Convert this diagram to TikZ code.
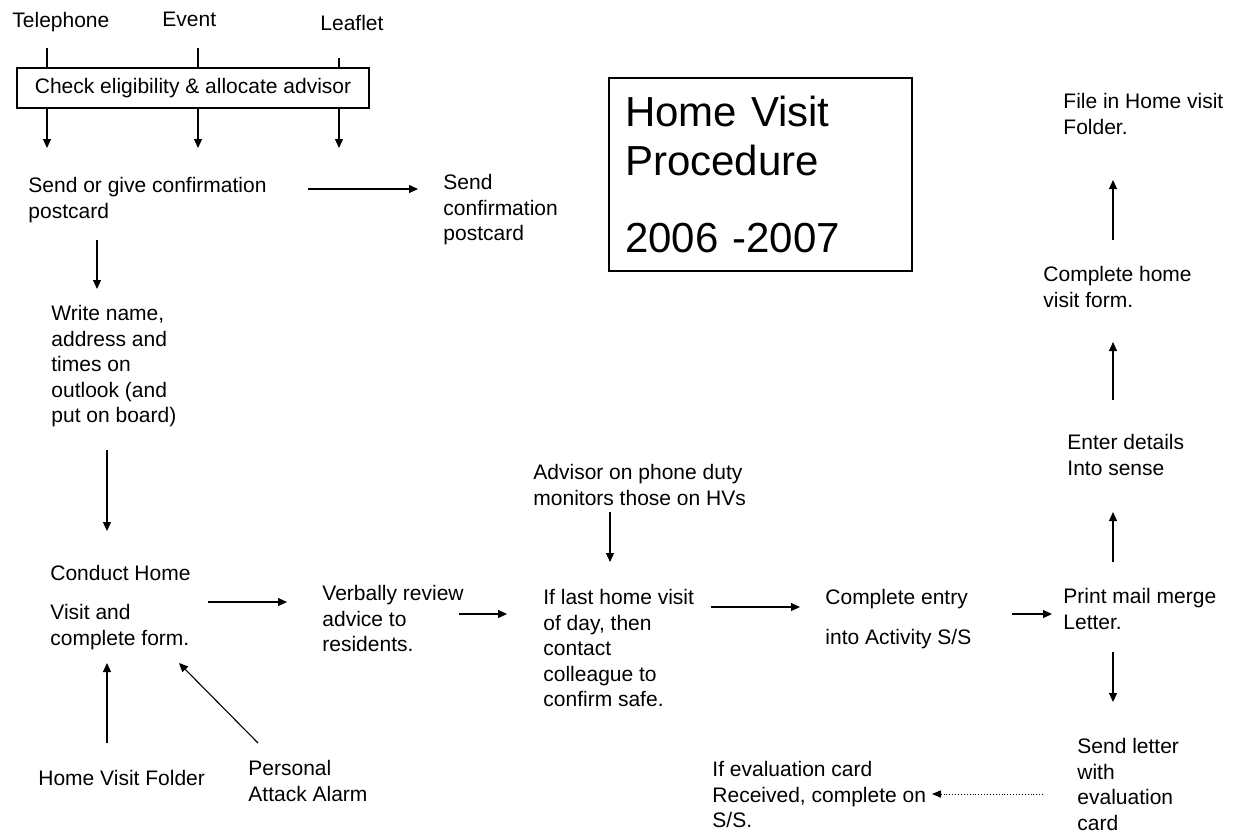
\documentclass[tikz,border=0pt]{standalone}
\usepackage{fontspec}
\setmainfont{Liberation Sans}
\usetikzlibrary{arrows.meta,positioning}

\begin{document}
\begin{tikzpicture}[
    x=0.5pt, y=-0.5pt,
    txt/.style={font=\fontsize{10.5}{12.75}\selectfont, align=left, inner sep=0pt, anchor=north west},
    checkbox/.style={draw, line width=0.6pt, font=\fontsize{10.5}{12.75}\selectfont, minimum width=176pt, minimum height=20pt, inner sep=0pt},
    titlebox/.style={draw, line width=0.6pt, font=\fontsize{21}{24.5}\selectfont, align=left, text width=135.5pt, inner xsep=8pt, inner ysep=0pt, minimum width=151.5pt, minimum height=96.5pt},
    link/.style={line width=0.55pt},
    arrow/.style={line width=0.55pt, -{Triangle[length=4.5pt,width=4pt]}},
    dotarrow/.style={line width=0.45pt, densely dotted, -{Triangle[length=4.5pt,width=3.6pt]}}
]
\useasboundingbox (0,0) rectangle (1234,832);

% Referrals
\node[txt] (tel) at (12,12) {Telephone};
\node[txt] (event) at (162,12) {Event};
\node[txt] (leaflet) at (320,15) {Leaflet};
\node[checkbox] (check) at (193,88) {Check eligibility \& allocate advisor};

\coordinate (telA) at (47,48);
\coordinate (eventA) at (198,48);
\coordinate (leafletA) at (339,58);
\draw[link] (telA) -- (telA |- check.north);
\draw[link] (eventA) -- (eventA |- check.north);
\draw[link] (leafletA) -- (leafletA |- check.north);

\coordinate (telB) at (47,148);
\coordinate (eventB) at (198,148);
\coordinate (leafletB) at (339,148);
\draw[arrow] (telB |- check.south) -- (telB);
\draw[arrow] (eventB |- check.south) -- (eventB);
\draw[arrow] (leafletB |- check.south) -- (leafletB);

% Booking
\node[txt] (sendgive) at (28,177) {Send or give confirmation\\postcard};
\node[txt] (sendcard) at (443,174) {Send\\confirmation\\postcard};
\node[txt] (write) at (51,305) {Write name,\\address and\\times on\\outlook (and\\put on board)};

\coordinate (postA) at (308,189);
\coordinate (postB) at (418,189);
\draw[arrow] (postA) -- (postB);
\coordinate (writeA) at (97,240);
\coordinate (writeB) at (97,289);
\draw[arrow] (writeA) -- (writeB);

% The visit
\node[txt] (conduct) at (50,565) {Conduct Home\\[6.75pt]Visit and\\complete form.};
\node[txt] (hvfolder) at (38,770) {Home Visit Folder};
\node[txt] (alarm) at (248,760) {Personal\\Attack Alarm};
\node[txt] (verbal) at (322,585) {Verbally review\\advice to\\residents.};
\node[txt] (advisor) at (533,464) {Advisor on phone duty\\monitors those on HVs};
\node[txt] (lastvisit) at (543,589) {If last home visit\\of day, then\\contact\\colleague to\\confirm safe.};

\coordinate (visitA) at (107,450);
\coordinate (visitB) at (107,531);
\draw[arrow] (visitA) -- (visitB);
\coordinate (folderA) at (107,743);
\coordinate (folderB) at (107,663);
\draw[arrow] (folderA) -- (folderB);
\coordinate (alarmA) at (258,743);
\coordinate (alarmB) at (179,663);
\draw[arrow] (alarmA) -- (alarmB);
\coordinate (reviewA) at (208,602);
\coordinate (reviewB) at (287,602);
\draw[arrow] (reviewA) -- (reviewB);
\coordinate (safeA) at (459,614);
\coordinate (safeB) at (507,614);
\draw[arrow] (safeA) -- (safeB);
\coordinate (dutyA) at (610,512);
\coordinate (dutyB) at (610,562);
\draw[arrow] (dutyA) -- (dutyB);

% Recording
\node[txt] (entry) at (825,589) {Complete entry\\[7pt]into Activity S/S};
\node[txt] (mailmerge) at (1063,588) {Print mail merge\\Letter.};
\node[txt] (sense) at (1067,434) {Enter details\\Into sense};
\node[txt] (hvform) at (1043,266) {Complete home\\visit form.};
\node[txt] (filing) at (1063,93) {File in Home visit\\Folder.};
\node[txt] (letter) at (1077,738) {Send letter\\with\\evaluation\\card};
\node[txt] (evalcard) at (712,761) {If evaluation card\\Received, complete on\\S/S.};

\coordinate (entryA) at (711,607);
\coordinate (entryB) at (800,607);
\draw[arrow] (entryA) -- (entryB);
\coordinate (mergeA) at (1012,614);
\coordinate (mergeB) at (1052,614);
\draw[arrow] (mergeA) -- (mergeB);
\coordinate (senseA) at (1113,562);
\coordinate (senseB) at (1113,512);
\draw[arrow] (senseA) -- (senseB);
\coordinate (formA) at (1113,400);
\coordinate (formB) at (1113,342);
\draw[arrow] (formA) -- (formB);
\coordinate (fileA) at (1113,240);
\coordinate (fileB) at (1113,180);
\draw[arrow] (fileA) -- (fileB);
\coordinate (letterA) at (1113,652);
\coordinate (letterB) at (1113,702);
\draw[arrow] (letterA) -- (letterB);
\coordinate (evalA) at (1043,794);
\coordinate (evalB) at (932,794);
\draw[dotarrow] (evalA) -- (evalB);

% Title
\node[titlebox] (title) at (760.5,174.5) {Home Visit\\Procedure\\[14pt]2006 -2007};

\end{tikzpicture}
\end{document}
